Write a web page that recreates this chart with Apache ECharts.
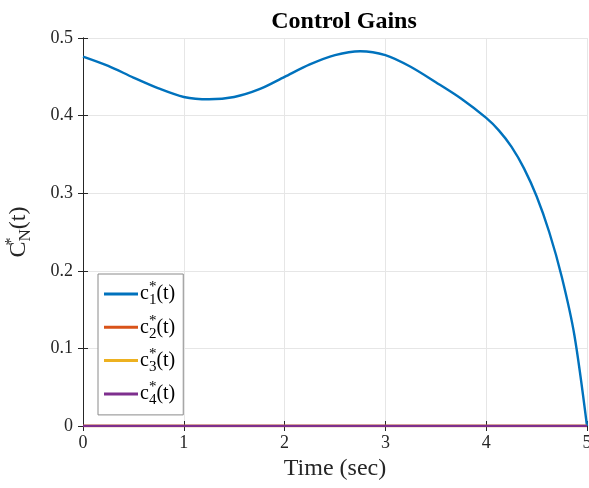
<!DOCTYPE html>
<html><head><meta charset="utf-8">
<script src="https://cdn.jsdelivr.net/npm/echarts@6/dist/echarts.min.js"></script>
<style>html,body{margin:0;padding:0;background:#fff}#c{width:589px;height:488px}</style>
</head><body><div id="c"></div>
<script>
const time = [0, 0.25, 0.5, 0.75, 1.0, 1.25, 1.5, 1.75, 2.0, 2.25, 2.5, 2.75, 3.0, 3.25, 3.5, 3.75, 4.0, 4.125, 4.25, 4.375, 4.5, 4.625, 4.75, 4.875, 5.0];
const c1 = [0.476, 0.464, 0.449, 0.435, 0.424, 0.421, 0.424, 0.434, 0.450, 0.466, 0.478, 0.483, 0.478, 0.463, 0.443, 0.422, 0.397, 0.381, 0.360, 0.332, 0.296, 0.250, 0.192, 0.117, 0.0];
const zeroTime = [0, 5];
const c2 = [0, 0];
const c3 = [0, 0];
const c4 = [0, 0];
const seriesNames = ['c1', 'c2', 'c3', 'c4'];
const legendLabels = {c1: 'c{sup|*}{sub|1}(t)', c2: 'c{sup|*}{sub|2}(t)', c3: 'c{sup|*}{sub|3}(t)', c4: 'c{sup|*}{sub|4}(t)'};
const colors = ['#0072BD', '#D95319', '#EDB120', '#7E2F8E'];
const xTicks = {min: 0, max: 5, interval: 1};
const yTicks = {min: 0, max: 0.5, interval: 0.1};

const font = 'Liberation Serif';
const txt = '#262626';
const zip = (xs, ys) => xs.map((x, i) => [x, ys[i]]);
const allY = [c1, c2, c3, c4];
const allX = [time, zeroTime, zeroTime, zeroTime];

const chart = echarts.init(document.getElementById('c'));
const baseAxis = {
  axisLine: {show: true, lineStyle: {color: txt, width: 1}},
  axisTick: {show: true, inside: true, length: 5, lineStyle: {color: txt}},
  splitLine: {show: false}
};
chart.setOption({
  animation: false,
  color: colors,
  title: {text: 'Control Gains', left: 339, textAlign: 'center', top: 5,
    textStyle: {fontFamily: font, fontWeight: 'bold', fontSize: 24, color: '#000'}},
  grid: {left: 83, right: 2, top: 38, bottom: 62, outerBoundsMode: 'none', containLabel: false},
  xAxis: [
    Object.assign({}, baseAxis, {type: 'value', min: xTicks.min, max: xTicks.max, interval: xTicks.interval,
      name: 'Time (sec)', nameLocation: 'middle', nameGap: 30,
      nameTextStyle: {fontFamily: font, fontSize: 24, color: txt},
      axisLabel: {fontFamily: font, fontSize: 18, color: txt, margin: 8},
      splitLine: {show: true, lineStyle: {color: '#e6e6e6', width: 1}}}),
    Object.assign({}, baseAxis, {type: 'value', position: 'top', min: xTicks.min, max: xTicks.max, interval: xTicks.interval,
      axisLabel: {show: false}})
  ],
  yAxis: [
    Object.assign({}, baseAxis, {type: 'value', min: yTicks.min, max: yTicks.max, interval: yTicks.interval,
      name: 'C{sup|*}{sub|N}(t)', nameLocation: 'middle', nameGap: 49, nameRotate: 90,
      nameTextStyle: {fontFamily: font, fontSize: 24, lineHeight: 30, color: txt,
        rich: {sup: {fontFamily: font, fontSize: 16, color: txt, verticalAlign: 'top', width: 0, lineHeight: 21},
               sub: {fontFamily: font, fontSize: 17, color: txt, verticalAlign: 'bottom', lineHeight: 19}}},
      axisLabel: {fontFamily: font, fontSize: 18, color: txt, margin: 10},
      splitLine: {show: true, lineStyle: {color: '#e6e6e6', width: 1}}}),
    Object.assign({}, baseAxis, {type: 'value', position: 'right', min: yTicks.min, max: yTicks.max, interval: yTicks.interval,
      axisLabel: {show: false}})
  ],
  legend: {
    orient: 'vertical', left: 98, top: 274, data: seriesNames, icon: 'rect',
    backgroundColor: '#fff', borderColor: '#8a8a8a', borderWidth: 1, borderRadius: 0,
    padding: [6, 8, 7, 6], itemWidth: 34, itemHeight: 3, itemGap: 5.3,
    formatter: n => legendLabels[n],
    textStyle: {fontFamily: font, fontSize: 20, lineHeight: 28, color: '#000', padding: [0, 0, 0, -3],
      rich: {sup: {fontFamily: font, fontSize: 15, color: '#000', verticalAlign: 'top', width: 0, lineHeight: 17},
             sub: {fontFamily: font, fontSize: 15, color: '#000', verticalAlign: 'bottom', lineHeight: 8}}}
  },
  series: seriesNames.map((n, i) => ({
    name: n, type: 'line', data: zip(allX[i], allY[i]), showSymbol: false, symbol: 'none',
    smooth: i === 0 ? 0.3 : false, lineStyle: {width: 2.4, color: colors[i]}, itemStyle: {color: colors[i]}
  }))
});
</script></body></html>
